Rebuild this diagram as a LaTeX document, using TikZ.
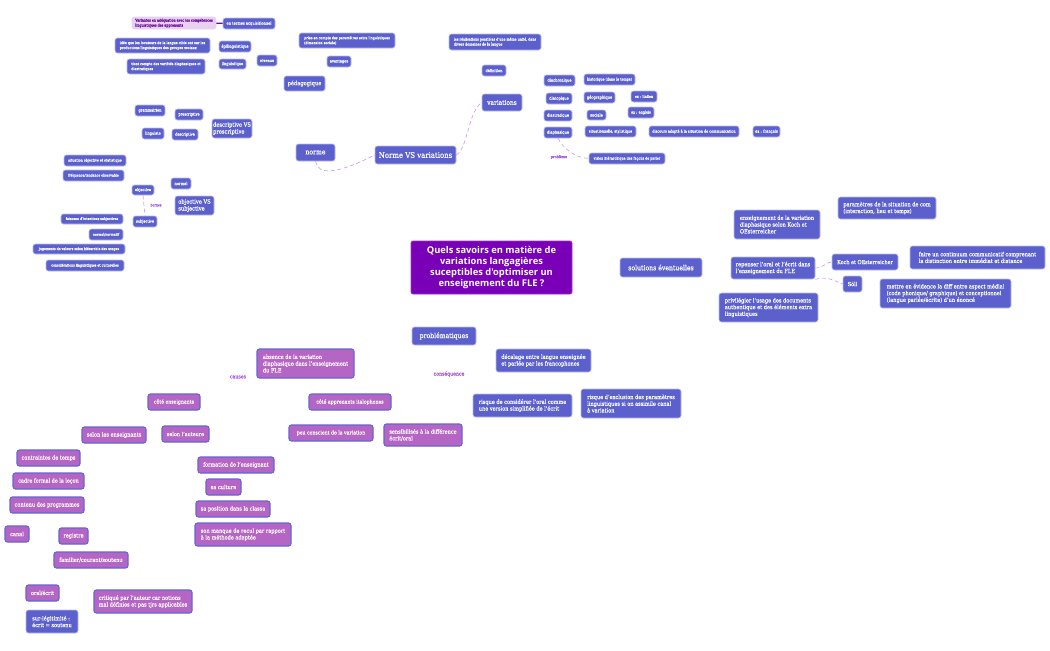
\documentclass[tikz,border=0pt]{standalone}
\usepackage{fontspec}
\setmainfont[FakeStretch=0.88,FakeBold=0.2]{DejaVu Serif}
\newfontfamily\titlefont{Open Sans}
\definecolor{blu}{HTML}{5C60CD}
\definecolor{blubd}{HTML}{B9BBEE}
\definecolor{pink}{HTML}{B565C4}
\definecolor{pinkbd}{HTML}{6466D2}
\definecolor{lilac}{HTML}{E8D0F0}
\definecolor{deep}{HTML}{7A00B8}
\definecolor{lnk}{HTML}{CFA0E6}
\definecolor{lbl}{HTML}{A050D8}
\newcommand{\setfs}[1]{\pgfmathsetmacro{\fsz}{#1*(#1<3.6 ? 0.9 : (#1<5 ? 1.02 : 0.97))}\pgfmathsetmacro{\blskip}{#1*1.2}\fontsize{\fsz}{\blskip}\selectfont}
\tikzset{
  x=0.75pt,y=-0.75pt,
  boxbase/.style={rounded corners=1.8pt,align=left,inner sep=0pt,text=white,font=\setfs{#1}},
  bluebox/.style={boxbase=#1,fill=blu,draw=blubd,line width=0.5pt},
  pinkbox/.style={boxbase=#1,fill=pink,draw=pinkbd,line width=0.8pt},
  pale/.style={boxbase=#1,fill=lilac,draw=lilac,text=deep!80!black},
  titlebox/.style={rounded corners=1.5pt,fill=deep,draw=deep!80!white,line width=.5pt,text=white,align=center,inner sep=0pt,
     font=\titlefont\bfseries\fontsize{7}{8.4}\selectfont},
  lab/.style={text=lbl,inner sep=0pt,font=\setfs{#1}},
  lnkline/.style={draw=lnk,line width=.5pt,densely dashed},
}
% name, style, x0, y0, x1, y1, text
\newcommand{\bx}[7]{%
  \pgfmathsetmacro{\cxx}{(#3+#5)/2}\pgfmathsetmacro{\cyy}{(#4+#6)/2}%
  \pgfmathsetmacro{\ww}{(#5-#3)*0.75}\pgfmathsetmacro{\hh}{(#6-#4)*0.75}%
  \node[#2,minimum width=\ww pt,minimum height=\hh pt] (#1) at (\cxx,\cyy) {#7};}
\begin{document}
\begin{tikzpicture}
\useasboundingbox (0,0) rectangle (1050,650);
% top-left
\bx{var}{pale=3.1}{132}{17}{216}{29}{Variantes en adéquation avec les compétences\\linguistiques des apprenants}
\bx{acq}{bluebox=3.4}{223}{18}{275}{29}{en termes acquisitionnel}
\draw[deep,line width=1pt] (var) -- (acq);
\bx{idee}{bluebox=3.1}{115}{38}{210}{53}{idée que les locuteurs de la langue cible ont sur les\\productions linguistiques des groupes sociaux}
\bx{epi}{bluebox=3.4}{219}{41}{251}{52}{épilinguistique}
\bx{tient}{bluebox=3.1}{127}{59}{205}{74}{tient compte des variétés diaphasiques et\\diastratiques}
\bx{ling}{bluebox=3.4}{219}{59}{246}{69}{linguistique}
\bx{niv}{bluebox=3.4}{257}{55}{277}{66}{niveaux}
\bx{prise}{bluebox=3.1}{299}{33}{395}{48}{prise en compte des paramètres extra linguistiques\\(dimension sociale)}
\bx{ava}{bluebox=3.4}{327}{56}{351}{67}{avantages}
\bx{peda}{bluebox=4.3}{284}{76}{325}{91}{pédagogique}
\bx{reali}{bluebox=3.1}{449}{34}{541}{50}{les réalisations possibles d'une même unité, dans\\divers domaines de la langue}
\bx{defi}{bluebox=3.3}{482}{65}{506}{76}{définition}
\bx{vari}{bluebox=4.9}{482}{94}{522}{111}{variations}
\bx{norme}{bluebox=5.4}{296}{144}{335}{161}{norme}
\bx{nvs}{bluebox=6.1}{375}{146}{456}{164}{Norme VS variations}
\bx{dia1}{bluebox=3.4}{544}{75}{575}{86}{diachronique}
\bx{hist}{bluebox=3.2}{584}{74}{635}{85}{historique (dans le temps)}
\bx{dia2}{bluebox=3.4}{546}{93}{572}{104}{diatopique}
\bx{geo}{bluebox=3.4}{584}{92}{615}{103}{géographique}
\bx{ita}{bluebox=3.2}{631}{91}{657}{102}{ex : italien}
\bx{dia3}{bluebox=3.4}{544}{110}{572}{121}{diastratique}
\bx{soc}{bluebox=3.4}{587}{110}{606}{120}{sociale}
\bx{ang}{bluebox=3.2}{628}{107}{654}{118}{ex : anglais}
\bx{dia4}{bluebox=3.4}{544}{127}{572}{138}{diaphasique}
\bx{situ}{bluebox=3.2}{585}{126}{636}{137}{situationnelle, stylistique}
\bx{disc}{bluebox=3.2}{649}{126}{739}{137}{discours adapté à la situation de communication}
\bx{fra}{bluebox=3.4}{753}{126}{780}{137}{ex : français}
\bx{visi}{bluebox=3.1}{589}{153}{665}{164}{vision hiérarchique des façons de parler}
\node[lab=3.2] (prob) at (559,157) {problème};
\draw[lnkline] (dia4.south) .. controls (563,148) and (575,158) .. (visi.west);
\draw[lnkline] (norme.south) .. controls (318,175) and (335,175) .. (nvs.west);
\draw[lnkline] (nvs.east) .. controls (468,148) and (468,112) .. (vari.west);
% norm block
\bx{gram}{bluebox=3.3}{135}{105}{165}{116}{grammairien}
\bx{pres}{bluebox=3.3}{175}{109}{203}{120}{prescriptive}
\bx{dvp}{bluebox=4.3}{212}{119}{252}{138}{descriptive VS\\prescriptive}
\bx{lin2}{bluebox=3.3}{142}{128}{164}{139}{linguiste}
\bx{desc}{bluebox=3.3}{172}{129}{198}{140}{descriptive}
\bx{sit}{bluebox=3.1}{64}{155}{126}{166}{situation objective et statistique}
\bx{freq}{bluebox=3}{63}{170}{124}{181}{fréquence/tendance observable}
\bx{obj}{bluebox=3.3}{132}{185}{154}{195}{objective}
\bx{nor}{bluebox=3.4}{171}{178}{191}{189}{normal}
\bx{ovs}{bluebox=4.3}{175}{196}{214}{215}{objective VS\\subjective}
\bx{sub}{bluebox=3.3}{133}{216}{157}{227}{subjective}
\node[lab=3] (bor) at (156,205) {bornes};
\draw[lnkline] (obj.south) -- (sub.north);
\bx{fai}{bluebox=3}{61}{214}{123}{224}{faisceau d'intentions subjectives}
\bx{nmt}{bluebox=3}{89}{229}{123}{240}{normal/normatif}
\bx{jug}{bluebox=3}{33}{244}{125}{254}{jugements de valeurs selon hiérarchie des usages}
\bx{con}{bluebox=3}{46}{260}{124}{271}{considérations linguistiques et culturelles}
% title
\bx{tit}{titlebox}{411}{241}{572}{294}{Quels savoirs en matière de\\variations langagières\\suceptibles d'optimiser un\\enseignement du FLE ?}
% solutions
\bx{para}{bluebox=4.2}{838}{197}{936}{219}{paramètres de la situation de com\\(interaction, lieu et temps)}
\bx{ens}{bluebox=4.2}{734}{210}{820}{239}{enseignement de la variation\\diaphasique selon Koch et\\OEsterreicher}
\bx{solu}{bluebox=5.4}{620}{258}{702}{277}{solutions éventuelles}
\bx{rep}{bluebox=4.2}{731}{257}{815}{279}{repenser l'oral et l'écrit dans\\l'enseignement du FLE}
\bx{koch}{bluebox=4.1}{832}{254}{898}{270}{Koch et OEsterreicher}
\bx{fair}{bluebox=4.2}{910}{246}{1045}{269}{faire un continuum communicatif comprenant\\la distinction entre immédiat et distance}
\bx{soll}{bluebox=4.1}{843}{276}{862}{292}{Söll}
\bx{mett}{bluebox=4.2}{880}{279}{1011}{308}{mettre en évidence la diff entre aspect médial\\(code phonique/ graphique) et conceptionnel\\(langue parlée/écrite) d'un énoncé}
\bx{priv}{bluebox=4.2}{719}{293}{818}{322}{privilégier l'usage des documents\\authentique et des éléments extra\\linguistiques}
\draw[lnkline] (rep.east) .. controls (824,268) and (824,263) .. (koch.west);
\draw[lnkline] (rep.south east) .. controls (828,276) and (832,280) .. (soll.west);
% problematiques
\bx{prob2}{bluebox=5.4}{412}{327}{476}{345}{problématiques}
\bx{abs}{pinkbox=4.2}{257}{349}{354}{378}{absence de la variation\\diaphasique dans l'enseignement\\du FLE}
\bx{dec}{bluebox=4.2}{496}{349}{591}{372}{décalage entre langue enseignée\\et parlée par les francophones}
\node[lab=3.9] (cau) at (238,377) {causes};
\node[lab=3.9] (cons) at (449,374) {conséquence};
\bx{capp}{pinkbox=3.9}{309}{394}{391}{410}{côté apprenants italophones}
\bx{ror}{bluebox=4.2}{473}{394}{572}{417}{risque de considérer l'oral comme\\une version simplifiée de l'écrit}
\bx{rex}{bluebox=4.2}{581}{389}{681}{418}{risque d'exclusion des paramètres\\linguistiques si on assimile canal\\à variation}
\bx{peu}{pinkbox=3.9}{289}{425}{373}{441}{peu conscient de la variation}
\bx{sen}{pinkbox=4.2}{384}{424}{462}{446}{sensibilisés à la différence\\écrit/oral}
\bx{cens}{pinkbox=3.9}{148}{394}{200}{410}{côté enseignants}
\bx{sens}{pinkbox=4.2}{82}{427}{146}{443}{selon les enseignants}
\bx{saut}{pinkbox=4.1}{162}{426}{209}{442}{selon l'auteure}
\bx{ctr}{pinkbox=4.2}{17}{450}{80}{466}{contraintes de temps}
\bx{cad}{pinkbox=4.1}{13}{473}{84}{489}{cadre formal de la leçon}
\bx{ctn}{pinkbox=4.2}{10}{497}{84}{513}{contenu des programmes}
\bx{can}{pinkbox=4.2}{5}{526}{29}{542}{canal}
\bx{reg}{pinkbox=4.2}{59}{528}{88}{544}{registre}
\bx{fam}{pinkbox=4.2}{54}{552}{128}{568}{familier/courant/soutenu}
\bx{ora}{pinkbox=4.1}{26}{585}{59}{601}{oral/écrit}
\bx{cri}{pinkbox=4.2}{94}{590}{192}{613}{critiqué par l'auteur car notions\\mal définies et pas tjrs applicables}
\bx{sur}{bluebox=4.2}{26}{610}{78}{633}{sur-légitimité :\\écrit = soutenu}
\bx{for}{pinkbox=4.2}{198}{457}{274}{473}{formation de l'enseignant}
\bx{cul}{pinkbox=4.2}{206}{479}{241}{495}{sa culture}
\bx{pos}{pinkbox=4.2}{196}{501}{270}{517}{sa position dans la classe}
\bx{man}{pinkbox=4.2}{195}{523}{291}{546}{son manque de recul par rapport\\à la méthode adaptée}
\end{tikzpicture}
\end{document}
